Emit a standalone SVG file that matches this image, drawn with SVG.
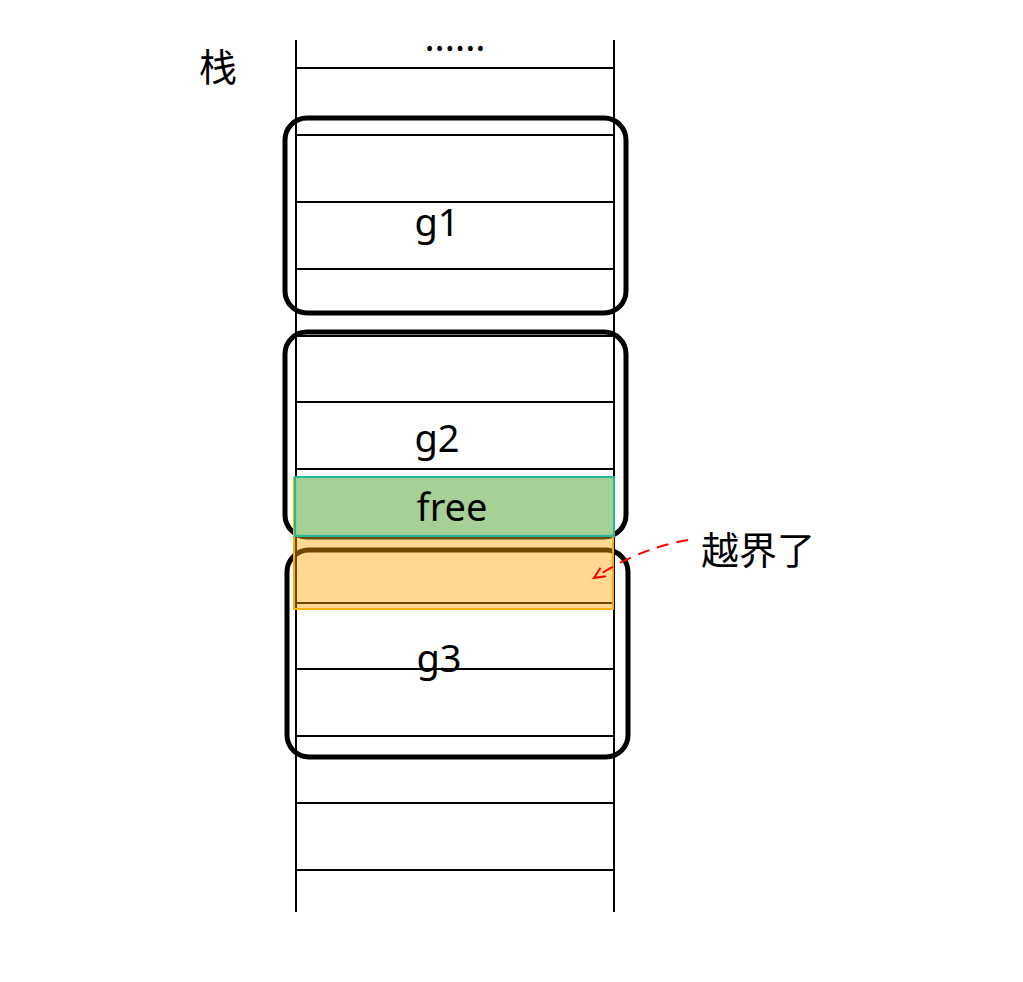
<svg xmlns="http://www.w3.org/2000/svg" width="1023" height="982" viewBox="0 0 1023 982">
<defs>
<style>
.ln{stroke:#000;stroke-width:2;fill:none}
.frame{fill:none;stroke:#000;stroke-width:5}
.lbl{font-family:"Noto Sans","Open Sans","Noto Sans CJK SC",sans-serif;font-size:38px;fill:#000;text-anchor:middle}
.cjk{font-family:"Noto Sans CJK SC",sans-serif;font-size:38px;fill:#000}
</style>
<marker id="arr" markerWidth="14" markerHeight="12" refX="12" refY="6" orient="auto" markerUnits="userSpaceOnUse">
<path d="M1,1 L12,6 L1,11" fill="none" stroke="#ff0000" stroke-width="2"/>
</marker>
</defs>
<rect width="1023" height="982" fill="#fff"/>
<g id="stack">
<line class="ln" x1="296" y1="40" x2="296" y2="912"/>
<line class="ln" x1="614" y1="40" x2="614" y2="912"/>
<line class="ln" x1="296" y1="68" x2="614" y2="68"/>
<line class="ln" x1="296" y1="135" x2="614" y2="135"/>
<line class="ln" x1="296" y1="202" x2="614" y2="202"/>
<line class="ln" x1="296" y1="269" x2="614" y2="269"/>
<line class="ln" x1="296" y1="336" x2="614" y2="336"/>
<line class="ln" x1="296" y1="402" x2="614" y2="402"/>
<line class="ln" x1="296" y1="469" x2="614" y2="469"/>
<line class="ln" x1="296" y1="536" x2="614" y2="536"/>
<line class="ln" x1="296" y1="603" x2="614" y2="603"/>
<line class="ln" x1="296" y1="669" x2="614" y2="669"/>
<line class="ln" x1="296" y1="736" x2="614" y2="736"/>
<line class="ln" x1="296" y1="803" x2="614" y2="803"/>
<line class="ln" x1="296" y1="870" x2="614" y2="870"/>
<text x="455" y="51" class="lbl" style="font-size:38px">......</text>
<text x="199" y="81" class="cjk">栈</text>
</g>
<g id="g1">
<rect class="frame" x="285" y="118" width="341" height="195" rx="22"/>
<text x="437" y="236" class="lbl">g1</text>
</g>
<g id="g2">
<rect class="frame" x="285" y="332" width="341" height="205" rx="22"/>
<text x="437" y="452" class="lbl">g2</text>
</g>
<g id="g3">
<rect class="frame" x="287" y="550" width="341" height="207" rx="22"/>
<text x="439" y="672" class="lbl">g3</text>
</g>
<g id="overflow">
<rect x="294" y="478" width="319" height="131" fill="#ffa500" fill-opacity="0.43" stroke="#ffb000" stroke-width="2"/>
</g>
<g id="free">
<rect x="295" y="477" width="319" height="59" fill="#a2d098" fill-opacity="0.95" stroke="#1fb89a" stroke-width="2"/>
<text x="452" y="521" class="lbl">free</text>
</g>
<g id="connectors">
<path d="M688,540 Q640,548 594,578" fill="none" stroke="#ff0000" stroke-width="2" stroke-dasharray="12,8" marker-end="url(#arr)"/>
</g>
<g id="note">
<text x="701" y="564" class="cjk">越界了</text>
</g>
</svg>
